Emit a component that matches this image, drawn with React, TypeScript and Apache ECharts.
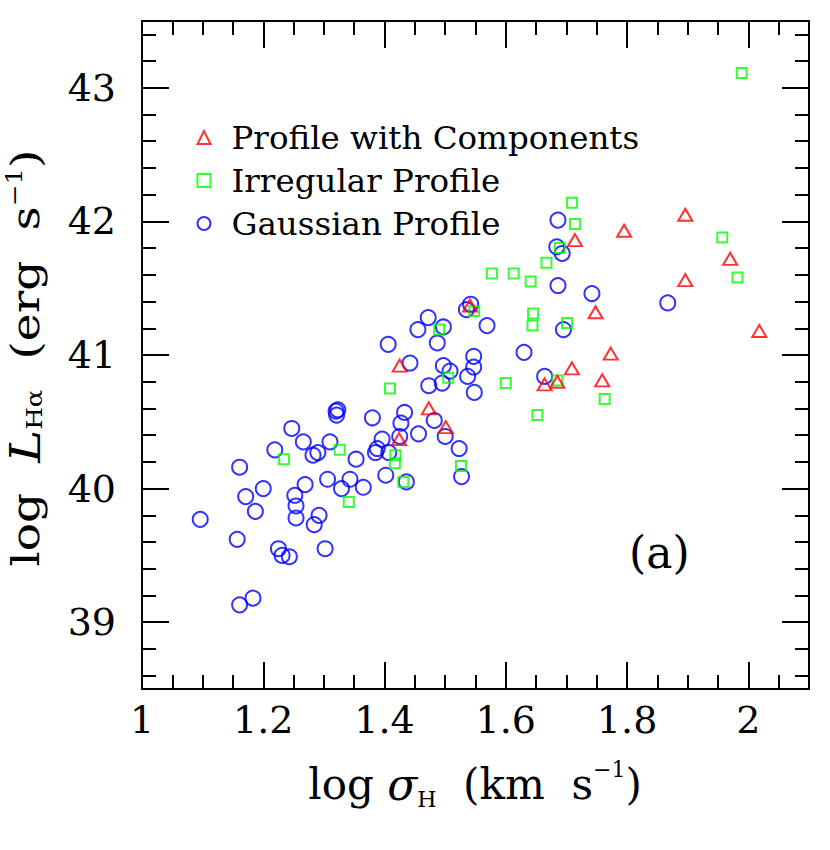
import React, { useEffect, useRef } from "react";
import * as echarts from "echarts";

// log sigma_H, log L_Halpha
const compX = [1.541, 1.425, 1.473, 1.501, 1.424, 1.714, 1.795, 1.896, 1.970, 1.896, 2.018, 1.748, 1.773, 1.709, 1.664, 1.685, 1.759];
const compY = [41.37, 40.92, 40.60, 40.46, 40.37, 41.86, 41.93, 42.05, 41.72, 41.56, 41.18, 41.32, 41.01, 40.90, 40.78, 40.80, 40.81];

const irrX = [1.234, 1.326, 1.341, 1.409, 1.418, 1.417, 1.431, 1.505, 1.526, 1.490, 1.548, 1.709, 1.714, 1.957, 1.982, 1.689, 1.667, 1.577, 1.613, 1.641, 1.645, 1.644, 1.701, 1.685, 1.600, 1.763, 1.652, 1.989];
const irrY = [40.22, 40.29, 39.90, 40.75, 40.25, 40.19, 40.05, 40.83, 40.17, 41.19, 41.33, 42.14, 41.98, 41.88, 41.58, 41.80, 41.69, 41.61, 41.61, 41.55, 41.31, 41.22, 41.24, 40.81, 40.79, 40.67, 40.55, 43.11];

const gauX = [1.096, 1.157, 1.161, 1.171, 1.187, 1.200, 1.219, 1.247, 1.266, 1.282, 1.290, 1.252, 1.254, 1.254, 1.269, 1.292, 1.284, 1.225, 1.231, 1.243, 1.302, 1.306, 1.310, 1.320, 1.323, 1.321, 1.329, 1.343, 1.353, 1.365, 1.380, 1.385, 1.388, 1.396, 1.402, 1.407, 1.427, 1.433, 1.425, 1.436, 1.456, 1.473, 1.482, 1.495, 1.500, 1.523, 1.527, 1.537, 1.548, 1.406, 1.442, 1.455, 1.472, 1.487, 1.497, 1.497, 1.508, 1.547, 1.547, 1.542, 1.535, 1.569, 1.686, 1.684, 1.693, 1.686, 1.742, 1.867, 1.695, 1.630, 1.664, 1.161, 1.183];
const gauY = [39.77, 39.62, 40.16, 39.94, 39.83, 40.00, 40.29, 40.45, 40.35, 40.25, 40.27, 39.95, 39.87, 39.78, 40.03, 39.80, 39.73, 39.55, 39.50, 39.49, 39.55, 40.07, 40.35, 40.58, 40.59, 40.55, 40.00, 40.07, 40.22, 40.01, 40.53, 40.27, 40.30, 40.37, 40.10, 40.27, 40.49, 40.57, 40.39, 40.05, 40.41, 40.77, 40.51, 40.79, 40.39, 40.30, 40.09, 40.84, 40.72, 41.08, 40.94, 41.19, 41.28, 41.09, 41.21, 40.92, 40.88, 40.99, 40.91, 41.38, 41.34, 41.22, 42.01, 41.81, 41.76, 41.52, 41.46, 41.39, 41.19, 41.02, 40.84, 39.13, 39.18];

const seriesNames = ["Profile with Components", "Irregular Profile", "Gaussian Profile"];
const xTickLabels = ["1", "1.2", "1.4", "1.6", "1.8", "2"];
const yTickLabels = ["39", "40", "41", "42", "43"];

const FONT = "DejaVu Serif";
const PLOT_L = 142, PLOT_T = 21, PLOT_W = 667, PLOT_H = 668;
const Y_MIN = 38.5, Y_MAX = 43.5;
const PX_PER_Y = PLOT_H / (Y_MAX - Y_MIN);
const NB = "\u00a0";

function zip(xs: number[], ys: number[]) {
  return xs.map((x, i) => [x, ys[i]]);
}

export default function App() {
  const ref = useRef<HTMLDivElement>(null);
  useEffect(() => {
    document.body.style.margin = "0";
    const chart = echarts.init(ref.current!, null, { renderer: "svg" });
    const black = "#000";
    const lineW = 2;
    const tickStyle = { color: black, width: lineW };
    const fmtX = (v: number) => {
      const s = String(Math.round(v * 10) / 10);
      return xTickLabels.includes(s) ? s : "";
    };
    const fmtY = (v: number) => {
      const s = String(Math.round(v));
      return yTickLabels.includes(s) ? s : "";
    };
    const labelStyle = { fontFamily: FONT, fontSize: 38, color: black };
    const xBase = { type: "value", min: 1, max: 2.1, splitLine: { show: false } };
    const titleRich = (fs: number, lh: number, supLh: number) => ({
      n: { fontFamily: FONT, fontSize: fs, lineHeight: lh, fill: black },
      i: { fontFamily: FONT, fontStyle: "italic", fontSize: fs + 2, lineHeight: lh, fill: black },
      s: { fontFamily: FONT, fontSize: 22, lineHeight: 22, verticalAlign: "bottom", fill: black },
      p: { fontFamily: FONT, fontSize: 22, lineHeight: supLh, verticalAlign: "top", fill: black },
    });

    const option: any = {
      animation: false,
      backgroundColor: "#fff",
      grid: [
        { left: PLOT_L, top: PLOT_T, width: PLOT_W, height: PLOT_H },
        { left: PLOT_L, top: PLOT_T + 0.5 * PX_PER_Y, width: PLOT_W, height: 4 * PX_PER_Y },
        { left: PLOT_L, top: PLOT_T + 0.1 * PX_PER_Y, width: PLOT_W, height: 4.8 * PX_PER_Y },
      ],
      xAxis: [
        {
          ...xBase, gridIndex: 0, position: "bottom", interval: 0.2,
          axisLine: { show: true, onZero: false, lineStyle: tickStyle },
          axisTick: { show: true, inside: true, length: 27, lineStyle: tickStyle },
          axisLabel: { show: true, ...labelStyle, margin: 12, showMaxLabel: false, formatter: fmtX },
        },
        {
          ...xBase, gridIndex: 0, position: "top", interval: 0.2,
          axisLine: { show: true, onZero: false, lineStyle: tickStyle },
          axisTick: { show: true, inside: true, length: 27, lineStyle: tickStyle },
          axisLabel: { show: false },
        },
        {
          ...xBase, gridIndex: 0, position: "bottom", interval: 0.05,
          axisLine: { show: false, onZero: false },
          axisTick: { show: true, inside: true, length: 14, lineStyle: tickStyle },
          axisLabel: { show: false },
        },
        {
          ...xBase, gridIndex: 0, position: "top", interval: 0.05,
          axisLine: { show: false, onZero: false },
          axisTick: { show: true, inside: true, length: 14, lineStyle: tickStyle },
          axisLabel: { show: false },
        },
        { ...xBase, gridIndex: 1, show: false },
        { ...xBase, gridIndex: 2, show: false },
      ],
      yAxis: [
        {
          type: "value", gridIndex: 0, min: Y_MIN, max: Y_MAX, position: "left",
          axisLine: { show: true, onZero: false, lineStyle: tickStyle },
          axisTick: { show: false }, axisLabel: { show: false }, splitLine: { show: false },
        },
        {
          type: "value", gridIndex: 0, min: Y_MIN, max: Y_MAX, position: "right",
          axisLine: { show: true, onZero: false, lineStyle: tickStyle },
          axisTick: { show: false }, axisLabel: { show: false }, splitLine: { show: false },
        },
        {
          type: "value", gridIndex: 1, min: 39, max: 43, interval: 1, position: "left",
          axisLine: { show: false, onZero: false },
          axisTick: { show: true, inside: true, length: 27, lineStyle: tickStyle },
          axisLabel: { show: true, ...labelStyle, margin: 26, formatter: fmtY },
          splitLine: { show: false },
        },
        {
          type: "value", gridIndex: 1, min: 39, max: 43, interval: 1, position: "right",
          axisLine: { show: false, onZero: false },
          axisTick: { show: true, inside: true, length: 27, lineStyle: tickStyle },
          axisLabel: { show: false }, splitLine: { show: false },
        },
        {
          type: "value", gridIndex: 2, min: 38.6, max: 43.4, interval: 0.2, position: "left",
          axisLine: { show: false, onZero: false },
          axisTick: { show: true, inside: true, length: 14, lineStyle: tickStyle },
          axisLabel: { show: false }, splitLine: { show: false },
        },
        {
          type: "value", gridIndex: 2, min: 38.6, max: 43.4, interval: 0.2, position: "right",
          axisLine: { show: false, onZero: false },
          axisTick: { show: true, inside: true, length: 14, lineStyle: tickStyle },
          axisLabel: { show: false }, splitLine: { show: false },
        },
      ],
      legend: {
        orient: "vertical",
        left: 191.5,
        top: 116,
        padding: 5,
        itemWidth: 13,
        itemHeight: 13,
        itemGap: 10,
        selectedMode: false,
        textStyle: { fontFamily: FONT, fontSize: 32.5, color: black, lineHeight: 32.5, padding: [0, 0, 0, 16] },
        data: seriesNames,
      },
      series: [
        {
          name: seriesNames[0], type: "scatter", xAxisIndex: 0, yAxisIndex: 0, z: 4,
          symbol: "triangle", symbolSize: [14, 12],
          itemStyle: { color: "rgba(255,255,255,0)", borderColor: "#ff0000", borderWidth: 2 },
          data: zip(compX, compY),
        },
        {
          name: seriesNames[1], type: "scatter", xAxisIndex: 0, yAxisIndex: 0, z: 3,
          symbol: "rect", symbolSize: 10,
          itemStyle: { color: "rgba(255,255,255,0)", borderColor: "#00ff00", borderWidth: 2 },
          data: zip(irrX, irrY),
        },
        {
          name: seriesNames[2], type: "scatter", xAxisIndex: 0, yAxisIndex: 0, z: 2,
          symbol: "circle", symbolSize: 15,
          itemStyle: { color: "rgba(255,255,255,0)", borderColor: "#0000ff", borderWidth: 2 },
          data: zip(gauX, gauY),
        },
      ],
      graphic: [
        {
          type: "text", left: 629, top: 530,
          style: { text: "(a)", fontFamily: FONT, fontSize: 44, fill: black },
        },
        {
          type: "text", x: 475, y: 784,
          style: {
            text: `{n|log${NB}}{i|σ}{s|H}{n|${NB}${NB}(km${NB}${NB}s}{p|−1}{n|)}`,
            align: "center", verticalAlign: "middle",
            rich: titleRich(42, 52, 30),
          },
        },
        {
          type: "text", x: 25, y: 358, rotation: Math.PI / 2, scaleX: 1.18,
          style: {
            text: `{n|log${NB}${NB}}{i|L}{s|Hα}{n|${NB}${NB}(erg${NB}${NB}s}{p|−1}{n|)}`,
            align: "center", verticalAlign: "middle",
            rich: titleRich(40, 42, 26),
          },
        },
      ],
    };
    chart.setOption(option);
    return () => chart.dispose();
  }, []);
  return <div ref={ref} style={{ width: 830, height: 850 }} />;
}
